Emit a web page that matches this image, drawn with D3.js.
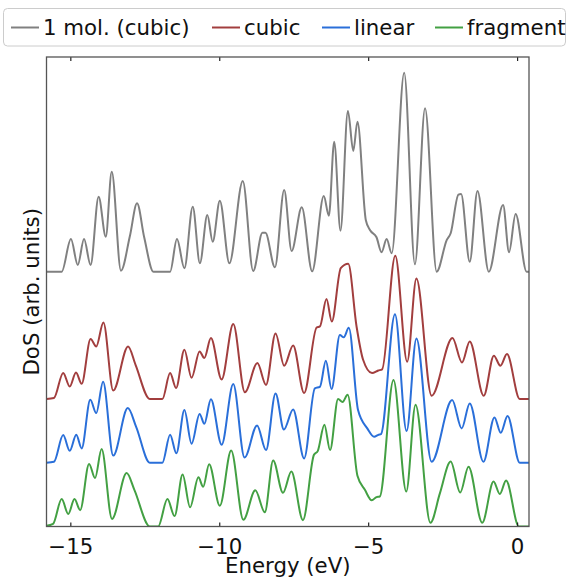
<!DOCTYPE html>
<html><head><meta charset="utf-8">
<script src="https://cdn.jsdelivr.net/npm/d3@7"></script>
<style>body{margin:0;background:#fff}svg{display:block;font-family:"DejaVu Sans",sans-serif}</style>
</head><body><svg id="c" width="568" height="578"></svg>
<script>
const seriesNames = ["1 mol. (cubic)", "cubic", "linear", "fragment"];
const seriesColors = ["#808080", "#a23e3e", "#2a6fd9", "#43a043"];
const seriesOffsets = [4, 2, 1, 0];
const xTicks = [-15, -10, -5, 0];

const grayDos = [[-15.80,0],[-15.29,0],[-14.98,0.513],[-14.75,0.105],[-14.54,0.513],[-14.32,0.105],[-14.05,1.177],[-13.81,0.549],[-13.61,1.570],[-13.30,0.016],[-13.00,0.560],[-12.76,1.074],[-12.52,0.540],[-12.21,0],[-11.65,0],[-11.42,0.513],[-11.17,0.053],[-10.89,1.020],[-10.65,0.132],[-10.40,0.890],[-10.22,0.471],[-9.98,1.115],[-9.66,0.132],[-9.21,1.424],[-8.86,0.01],[-8.55,0.61],[-8.45,0.61],[-8.13,0.069],[-7.82,1.283],[-7.57,0.325],[-7.23,1.011],[-6.88,0.005],[-6.49,1.188],[-6.32,0.879],[-6.14,2.041],[-5.93,0.644],[-5.68,2.523],[-5.50,1.895],[-5.36,2.355],[-5.08,0.812],[-4.94,0.655],[-4.72,0.540],[-4.55,0.305],[-4.38,0.513],[-4.21,0.289],[-3.79,3.124],[-3.43,0.116],[-3.09,2.565],[-2.70,0],[-2.36,0.50],[-2.23,0.603],[-1.97,1.21],[-1.88,1.22],[-1.59,0.157],[-1.33,1.267],[-0.95,0],[-0.47,1.047],[-0.27,0.305],[-0.05,0.906],[0.32,0],[0.40,0]];

const cubicDos = [[-15.80,0],[-15.55,0.016],[-15.24,0.408],[-15.02,0.198],[-14.81,0.418],[-14.62,0.240],[-14.32,0.942],[-14.13,0.826],[-13.89,1.203],[-13.56,0.135],[-13.06,0.826],[-12.81,0.538],[-12.33,0],[-11.91,0],[-11.65,0.408],[-11.45,0.173],[-11.17,0.774],[-10.93,0.334],[-10.66,0.747],[-10.50,0.644],[-10.28,0.958],[-9.92,0.308],[-9.53,1.179],[-9.14,0.107],[-8.72,0.565],[-8.43,0.221],[-8.11,1.030],[-7.82,0.523],[-7.52,0.841],[-7.15,0.094],[-6.73,1.124],[-6.62,1.140],[-6.40,1.570],[-6.22,1.218],[-5.92,2.056],[-5.67,2.124],[-5.39,1.140],[-5.17,0.617],[-4.87,0.408],[-4.66,0.449],[-4.53,0.468],[-4.09,2.250],[-3.69,0.586],[-3.38,1.892],[-2.87,0.052],[-2.17,0.958],[-1.85,0.575],[-1.59,0.904],[-1.12,0.052],[-0.78,0.680],[-0.56,0.523],[-0.34,0.706],[0.09,0],[0.40,0]];

const linearDos = [[-15.80,0],[-15.55,0.016],[-15.24,0.435],[-15.02,0.188],[-14.80,0.440],[-14.62,0.226],[-14.33,0.989],[-14.13,0.780],[-13.90,1.272],[-13.56,0.113],[-13.07,0.859],[-12.79,0.565],[-12.33,0],[-11.91,0],[-11.65,0.440],[-11.44,0.148],[-11.17,0.827],[-10.93,0.298],[-10.66,0.765],[-10.50,0.612],[-10.28,0.997],[-9.92,0.283],[-9.53,1.235],[-9.15,0.082],[-8.73,0.587],[-8.43,0.199],[-8.11,1.089],[-7.83,0.521],[-7.52,0.838],[-7.15,0.069],[-6.79,1.168],[-6.62,1.193],[-6.42,1.601],[-6.23,1.157],[-5.95,2.005],[-5.82,1.969],[-5.65,2.119],[-5.34,0.827],[-5.03,0.540],[-4.80,0.408],[-4.65,0.44],[-4.57,0.45],[-4.10,2.330],[-3.71,0.498],[-3.38,1.953],[-2.87,0.016],[-2.18,0.984],[-1.86,0.540],[-1.59,0.932],[-1.13,0.016],[-0.76,0.713],[-0.55,0.471],[-0.32,0.733],[0.09,0],[0.40,0]];

const fragmentDos = [[-15.80,0.01],[-15.58,0.04],[-15.29,0.430],[-15.07,0.196],[-14.86,0.430],[-14.67,0.257],[-14.37,0.981],[-14.17,0.760],[-13.95,1.215],[-13.60,0.118],[-13.11,0.838],[-12.85,0.576],[-12.33,0],[-12.05,0],[-11.74,0.430],[-11.50,0.163],[-11.23,0.816],[-10.98,0.301],[-10.70,0.772],[-10.54,0.623],[-10.34,0.976],[-9.98,0.325],[-9.60,1.192],[-9.19,0.105],[-8.79,0.568],[-8.47,0.223],[-8.19,1.035],[-7.86,0.529],[-7.58,0.863],[-7.19,0.100],[-6.82,1.126],[-6.69,1.188],[-6.47,1.597],[-6.28,1.199],[-6.01,2.0],[-5.86,1.954],[-5.69,2.068],[-5.36,0.796],[-5.11,0.576],[-4.88,0.411],[-4.72,0.462],[-4.61,0.471],[-4.15,2.298],[-3.72,0.549],[-3.41,1.911],[-2.91,0.058],[-2.59,0.524],[-2.23,1.020],[-1.91,0.534],[-1.63,0.937],[-1.17,0.058],[-0.79,0.706],[-0.58,0.510],[-0.37,0.722],[0.06,0],[0.40,0]];

const seriesData = [grayDos, cubicDos, linearDos, fragmentDos];

const L = 46.5, R = 529, T = 57, B = 526.5;
const svg = d3.select("#c");
const x = d3.scaleLinear().domain([-15.8, 0.4]).range([L, R]);
const y = d3.scaleLinear().domain([0, 7.37]).range([B, T]);

svg.append("defs").append("clipPath").attr("id","clip")
  .append("rect").attr("x",L).attr("y",T).attr("width",R-L).attr("height",B-T);

const line = d3.line().x(d=>x(d[0])).y(d=>y(d[1])).curve(d3.curveMonotoneX);
const g = svg.append("g").attr("clip-path","url(#clip)");
seriesData.forEach((s,i)=>{
  g.append("path")
    .datum(s.map(p=>[p[0], p[1]+seriesOffsets[i]]))
    .attr("d", line).attr("fill","none")
    .attr("stroke", seriesColors[i]).attr("stroke-width", 2)
    .attr("stroke-linejoin","round");
});

// axes
const ax = svg.append("g").attr("transform",`translate(0,${B})`)
  .call(d3.axisBottom(x).tickValues(xTicks).tickSizeInner(-4).tickSizeOuter(0));
ax.select(".domain").remove();
ax.selectAll(".tick line").attr("stroke","#222").attr("stroke-width",1.2);
ax.selectAll(".tick text").attr("y",27).attr("dy",0).attr("fill","#111")
  .style("font-size","21.3px").style("font-family","DejaVu Sans");

const axT = svg.append("g").attr("transform",`translate(0,${T})`)
  .call(d3.axisTop(x).tickValues(xTicks).tickSizeInner(-4).tickSizeOuter(0).tickFormat(""));
axT.select(".domain").remove();
axT.selectAll(".tick line").attr("stroke","#222").attr("stroke-width",1.2);

svg.append("rect").attr("x",L).attr("y",T).attr("width",R-L).attr("height",B-T)
  .attr("fill","none").attr("stroke","#555").attr("stroke-width",1.3);

svg.append("text").attr("x",(L+R)/2).attr("y",573).attr("text-anchor","middle")
  .style("font-size","21.3px").attr("fill","#111").text("Energy (eV)");
svg.append("text").attr("transform",`translate(39,${(T+B)/2}) rotate(-90)`)
  .attr("text-anchor","middle").style("font-size","21.3px").attr("fill","#111").text("DoS (arb. units)");

// legend
const lg = svg.append("g");
lg.append("rect").attr("x",3.5).attr("y",8.5).attr("width",562).attr("height",37.5).attr("rx",4)
  .attr("fill","#fff").attr("stroke","#cccccc").attr("stroke-width",1);
const legX = [11, 212, 322, 435];
seriesNames.forEach((n,i)=>{
  lg.append("line").attr("x1",legX[i]).attr("x2",legX[i]+28).attr("y1",27.5).attr("y2",27.5)
    .attr("stroke",seriesColors[i]).attr("stroke-width",2);
  lg.append("text").attr("x",legX[i]+32).attr("y",34.5).style("font-size","21.3px")
    .attr("fill","#111").text(n);
});
</script></body></html>
